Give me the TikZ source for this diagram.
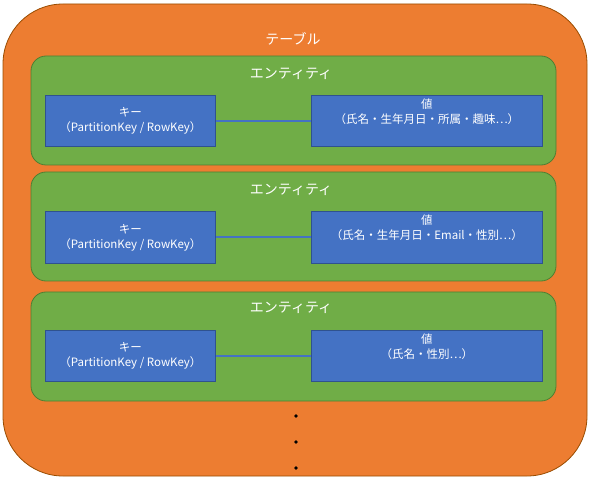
\documentclass[tikz,border=0pt]{standalone}
\usepackage{fontspec}
\setmainfont{Noto Sans CJK JP}
\begin{document}
\begin{tikzpicture}[x=1pt,y=-1pt,
  tablebox/.style={draw=orange!60!black,fill={rgb,255:red,237;green,125;blue,49},line width=0.8pt,rounded corners=60pt},
  entitybox/.style={draw={rgb,255:red,80;green,126;blue,50},fill={rgb,255:red,112;green,173;blue,71},line width=0.8pt,rounded corners=15pt},
  itembox/.style={draw={rgb,255:red,47;green,82;blue,143},fill={rgb,255:red,68;green,114;blue,196},line width=0.8pt},
  link/.style={draw={rgb,255:red,68;green,114;blue,196},line width=2pt},
  title/.style={text=white,font=\fontsize{14}{16}\selectfont},
  itemtext/.style={text=white,font=\fontsize{11.5}{15}\selectfont,align=center,inner sep=0pt},
  dotmark/.style={fill=black,circle,inner sep=0pt,minimum size=3.8pt}]
\useasboundingbox (0,0) rectangle (590,500);
\draw[tablebox] (3,4) rectangle (587,476);
\node[title] (tt) at (293,39) {テーブル};
% entity 1
\draw[entitybox] (31,56) rectangle (556,165);
\node[title] (e1) at (291,74) {エンティティ};
\node[itembox,minimum width=170pt,minimum height=51pt,anchor=north west] (k1) at (45,95) {};
\node[itemtext] at (k1.center) {キー\\（PartitionKey / RowKey）};
\node[itembox,minimum width=231pt,minimum height=51pt,anchor=north west] (v1) at (311,95) {};
\node[itemtext,anchor=north] at ([yshift=-4pt]v1.north) {値\\（氏名・生年月日・所属・趣味…）};
\draw[link] (k1.east) -- (v1.west);
% entity 2
\draw[entitybox] (31,172) rectangle (556,281);
\node[title] (e2) at (291,190) {エンティティ};
\node[itembox,minimum width=170pt,minimum height=52pt,anchor=north west] (k2) at (45,211) {};
\node[itemtext] at (k2.center) {キー\\（PartitionKey / RowKey）};
\node[itembox,minimum width=231pt,minimum height=52pt,anchor=north west] (v2) at (311,211) {};
\node[itemtext,anchor=north] at ([yshift=-4pt]v2.north) {値\\（氏名・生年月日・Email・性別…）};
\draw[link] (k2.east) -- (v2.west);
% entity 3
\draw[entitybox] (31,292) rectangle (556,401);
\node[title] (e3) at (291,308) {エンティティ};
\node[itembox,minimum width=170pt,minimum height=51pt,anchor=north west] (k3) at (45,330) {};
\node[itemtext] at (k3.center) {キー\\（PartitionKey / RowKey）};
\node[itembox,minimum width=231pt,minimum height=51pt,anchor=north west] (v3) at (311,330) {};
\node[itemtext,anchor=north] at ([yshift=-4pt]v3.north) {値\\（氏名・性別…）};
\draw[link] (k3.east) -- (v3.west);
% dots
\node[dotmark] (d1) at (296,416) {};
\node[dotmark] (d2) at (296,442) {};
\node[dotmark] (d3) at (296,468) {};
\end{tikzpicture}
\end{document}
